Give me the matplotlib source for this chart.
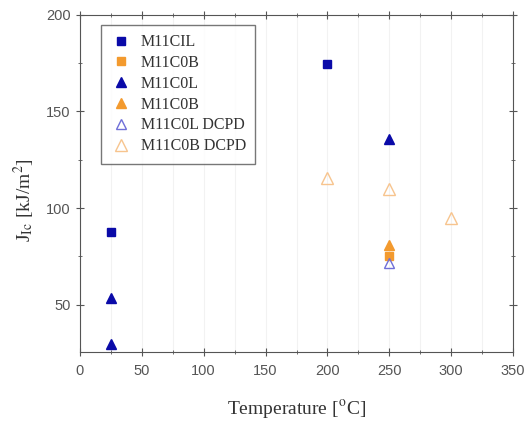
import matplotlib
matplotlib.use("Agg")
import matplotlib.pyplot as plt
from matplotlib.ticker import MultipleLocator

plt.rcParams['font.family'] = ['Liberation Serif', 'DejaVu Serif']
plt.rcParams['mathtext.fontset'] = 'stix'

# Data
cil_T = [25, 200]
cil_J = [87.5, 174.5]
c0b_sq_T = [250]
c0b_sq_J = [75]
c0l_T = [25, 25, 250]
c0l_J = [53.5, 29.5, 135.5]
c0b_tri_T = [250]
c0b_tri_J = [81]
c0l_dcpd_T = [250]
c0l_dcpd_J = [71.5]
c0b_dcpd_T = [200, 250, 300]
c0b_dcpd_J = [115.5, 110, 95]

blue = '#0a0aa8'
orange = '#f39a2e'

fig = plt.figure(figsize=(5.29, 4.26), dpi=100)
ax = fig.add_axes([0.151, 0.174, 0.819, 0.791])

ax.plot(cil_T, cil_J, 's', color=blue, ms=6, ls='none', label='M11CIL')
ax.plot(c0b_sq_T, c0b_sq_J, 's', color=orange, ms=6, ls='none', label='M11C0B')
ax.plot(c0l_T, c0l_J, '^', color=blue, ms=7, ls='none', label='M11C0L')
ax.plot(c0b_tri_T, c0b_tri_J, '^', color=orange, ms=7, ls='none', label='M11C0B')
ax.plot(c0l_dcpd_T, c0l_dcpd_J, '^', mfc='none', mec='#6f6fd8', mew=1.0, ms=7, ls='none', label='M11C0L DCPD')
ax.plot(c0b_dcpd_T, c0b_dcpd_J, '^', mfc='none', mec='#f7c48e', mew=1.0, ms=8, ls='none', label='M11C0B DCPD')

ax.set_xlim(0, 350)
ax.set_ylim(25.5, 200)
ax.xaxis.set_major_locator(MultipleLocator(50))
ax.xaxis.set_minor_locator(MultipleLocator(25))
ax.yaxis.set_major_locator(MultipleLocator(50))
ax.yaxis.set_minor_locator(MultipleLocator(25))
ax.tick_params(which='both', direction='inout', top=True, right=True, labelsize=10.5,
               labelcolor='#555555', color='#555555')
ax.tick_params(which='major', length=6)
ax.tick_params(which='minor', length=3)
ax.tick_params(axis='x', pad=6)
for lab in ax.get_xticklabels() + ax.get_yticklabels():
    lab.set_family(['Liberation Sans', 'DejaVu Sans'])
ax.grid(axis='x', which='both', color='#f2f2f2', lw=0.8)
for s in ax.spines.values():
    s.set_color('#555555')

ax.set_xlabel('Temperature [$^{\\rm o}$C]', fontsize=14, color='#333333', labelpad=14)
ax.set_ylabel('J$_{\\rm Ic}$ [kJ/m$^2$]', fontsize=14, color='#333333')
ax.yaxis.set_label_coords(-0.1, 0.45)

leg = ax.legend(loc='upper left', bbox_to_anchor=(0.035, 0.99), fontsize=11.5, frameon=True,
                fancybox=False, edgecolor='#555555', handletextpad=0.65, handlelength=1.2,
                labelspacing=0.3, borderpad=0.6, borderaxespad=0.4, labelcolor='#333333')
leg.get_frame().set_linewidth(1.0)

fig.savefig('out.png', dpi=100)
